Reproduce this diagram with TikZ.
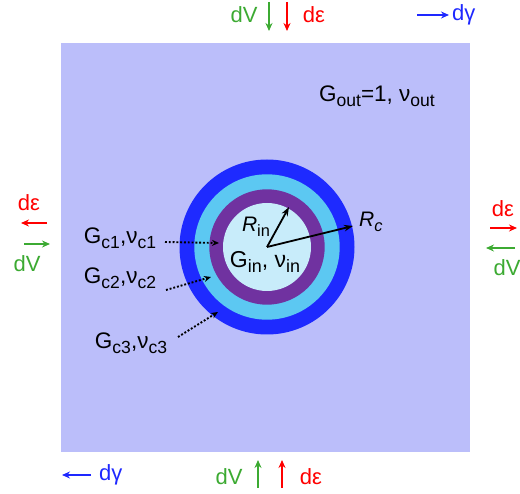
\documentclass[tikz,border=0pt]{standalone}
\usepackage{fontspec}
\setmainfont{Liberation Sans}
\usetikzlibrary{arrows.meta}
\definecolor{bg}{RGB}{187,190,250}
\definecolor{ringblue}{RGB}{30,42,255}
\definecolor{ringcyan}{RGB}{92,200,242}
\definecolor{ringpurple}{RGB}{112,50,160}
\definecolor{innercol}{RGB}{200,236,250}
\definecolor{dgreen}{RGB}{60,170,50}
\definecolor{dred}{RGB}{255,0,0}
\definecolor{dblue}{RGB}{30,40,255}
\newcommand{\sbs}[1]{\raisebox{-0.22em}{\scalebox{0.78}{#1}}}
\tikzset{
  dlab/.style={inner sep=0pt,font=\fontsize{22}{26}\selectfont},
  glab/.style={inner sep=0pt,font=\fontsize{22.5}{26}\selectfont},
  darrow/.style={line width=1.4pt,-{Stealth[length=8pt,width=7pt]}},
  rarrow/.style={line width=1.8pt,-{Stealth[length=9pt,width=6.5pt]}},
  dotarrow/.style={line width=1.9pt,dash pattern=on 1.9pt off 1.9pt,-{Stealth[length=7pt,width=6pt]}}
}
\begin{document}
\begin{tikzpicture}[x=1pt,y=-1pt]
\useasboundingbox (0,0) rectangle (520,494);
\fill[bg] (61,43) rectangle (470,452);
\coordinate (c) at (267,247);
\fill[ringblue] (c) circle (87.5pt);
\fill[ringcyan] (c) circle (72.7pt);
\fill[ringpurple] (c) circle (57.7pt);
\fill[innercol] (c) circle (44pt);
% radius arrows
\coordinate (rin) at (289,207);
\coordinate (rc) at (353,226);
\draw[rarrow] (c) -- (rin);
\draw[rarrow] (c) -- (rc);
\node[glab,font=\fontsize{21}{24}\selectfont] (Rin) at (256,227) {\textit{R}\sbs{in}};
\node[glab,font=\fontsize{21}{24}\selectfont,anchor=west] (Rc) at (359,222) {\textit{R}\sbs{\textit{c}}};
\node[glab,font=\fontsize{23}{26}\selectfont] (Gin) at (265,262) {G\sbs{in}, ν\sbs{in}};
\node[glab] (Gout) at (377,96) {G\sbs{out}=1, ν\sbs{out}};
% coating labels
\node[glab] (gc1) at (120,238) {G\sbs{c1},ν\sbs{c1}};
\node[glab] (gc2) at (120,278) {G\sbs{c2},ν\sbs{c2}};
\node[glab] (gc3) at (131,343) {G\sbs{c3},ν\sbs{c3}};
\coordinate (s1) at (165,242);
\coordinate (t1) at (219,243);
\coordinate (s2) at (166,290);
\coordinate (t2) at (211,277);
\coordinate (s3) at (178,337);
\coordinate (t3) at (218,312);
\draw[dotarrow] (s1) -- (t1);
\draw[dotarrow] (s2) -- (t2);
\draw[dotarrow] (s3) -- (t3);
% top
\node[dlab,text=dgreen] (tdv) at (244,15) {dV};
\coordinate (tg1) at (269,2); \coordinate (tg2) at (269,31);
\coordinate (tr1) at (287,2); \coordinate (tr2) at (287,31);
\draw[darrow,dgreen] (tg1) -- (tg2);
\draw[darrow,dred] (tr1) -- (tr2);
\node[dlab,text=dred] (tde) at (314,15) {dε};
\coordinate (tb1) at (417,15); \coordinate (tb2) at (449,15);
\draw[darrow,dblue] (tb1) -- (tb2);
\node[dlab,text=dblue,anchor=west] (tdg) at (452,15) {dγ};
% left
\node[dlab,text=dred] (lde) at (29,203) {dε};
\coordinate (lr1) at (47,223); \coordinate (lr2) at (21,223);
\draw[darrow,dred] (lr1) -- (lr2);
\coordinate (lg1) at (24,244); \coordinate (lg2) at (50,244);
\draw[darrow,dgreen] (lg1) -- (lg2);
\node[dlab,text=dgreen] (ldv) at (27,264) {dV};
% right
\node[dlab,text=dred] (rde) at (503,209) {dε};
\coordinate (rr1) at (490,228); \coordinate (rr2) at (517,228);
\draw[darrow,dred] (rr1) -- (rr2);
\coordinate (rg1) at (515,248); \coordinate (rg2) at (486,248);
\draw[darrow,dgreen] (rg1) -- (rg2);
\node[dlab,text=dgreen] (rdv) at (507,268) {dV};
% bottom
\coordinate (bb1) at (91,475); \coordinate (bb2) at (62,475);
\draw[darrow,dblue] (bb1) -- (bb2);
\node[dlab,text=dblue,anchor=west] (bdg) at (99,475) {dγ};
\node[dlab,text=dgreen] (bdv) at (229,477) {dV};
\coordinate (bg1) at (258,488); \coordinate (bg2) at (258,460);
\draw[darrow,dgreen] (bg1) -- (bg2);
\coordinate (br1) at (282,488); \coordinate (br2) at (282,460);
\draw[darrow,dred] (br1) -- (br2);
\node[dlab,text=dred] (bde) at (311,477) {dε};
\end{tikzpicture}
\end{document}
